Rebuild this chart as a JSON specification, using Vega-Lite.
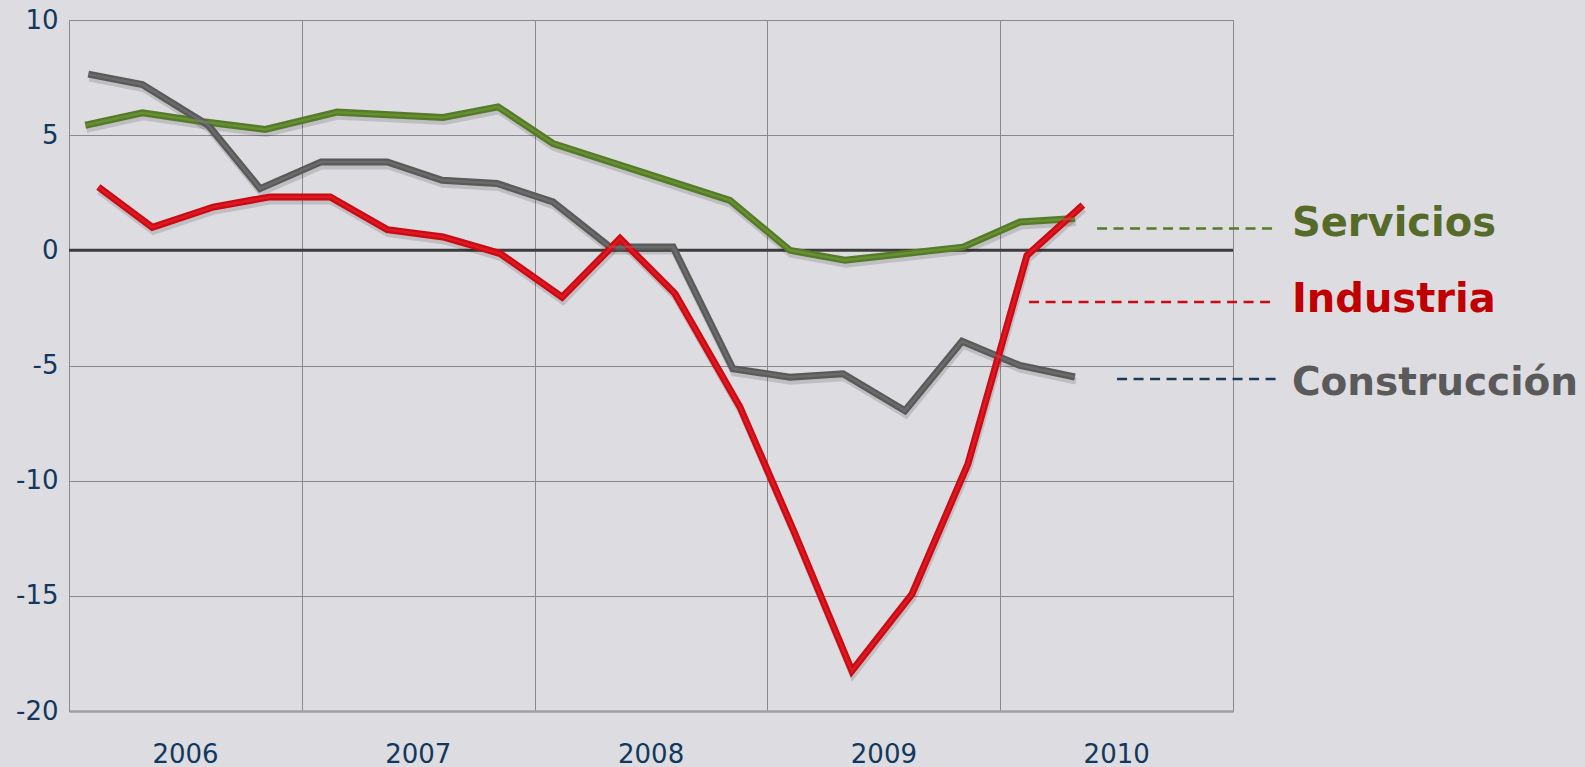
{
  "$schema": "https://vega.github.io/schema/vega-lite/v6.json",
  "autosize": "none",
  "width": 1164,
  "height": 691,
  "padding": {"left": 69, "top": 20, "right": 352, "bottom": 56},
  "background": "#dcdce1",
  "config": {
    "view": {"stroke": "#8a8a8a", "strokeWidth": 1},
    "font": "DejaVu Sans"
  },
  "datasets": {
    "series": [
      {"serie": "Servicios", "t": 2006.070, "v": 5.43},
      {"serie": "Servicios", "t": 2006.315, "v": 5.97},
      {"serie": "Servicios", "t": 2006.577, "v": 5.58},
      {"serie": "Servicios", "t": 2006.843, "v": 5.25},
      {"serie": "Servicios", "t": 2007.152, "v": 6.0},
      {"serie": "Servicios", "t": 2007.607, "v": 5.77},
      {"serie": "Servicios", "t": 2007.843, "v": 6.23},
      {"serie": "Servicios", "t": 2008.079, "v": 4.64},
      {"serie": "Servicios", "t": 2008.839, "v": 2.17},
      {"serie": "Servicios", "t": 2009.097, "v": 0.0},
      {"serie": "Servicios", "t": 2009.333, "v": -0.43},
      {"serie": "Servicios", "t": 2009.840, "v": 0.14},
      {"serie": "Servicios", "t": 2010.085, "v": 1.23},
      {"serie": "Servicios", "t": 2010.321, "v": 1.38},
      {"serie": "Construcción", "t": 2006.083, "v": 7.65},
      {"serie": "Construcción", "t": 2006.315, "v": 7.2},
      {"serie": "Construcción", "t": 2006.598, "v": 5.43},
      {"serie": "Construcción", "t": 2006.821, "v": 2.68},
      {"serie": "Construcción", "t": 2007.083, "v": 3.84},
      {"serie": "Construcción", "t": 2007.367, "v": 3.84},
      {"serie": "Construcción", "t": 2007.603, "v": 3.04},
      {"serie": "Construcción", "t": 2007.839, "v": 2.9},
      {"serie": "Construcción", "t": 2008.079, "v": 2.1},
      {"serie": "Construcción", "t": 2008.324, "v": 0.14},
      {"serie": "Construcción", "t": 2008.595, "v": 0.14},
      {"serie": "Construcción", "t": 2008.852, "v": -5.14},
      {"serie": "Construcción", "t": 2009.097, "v": -5.51},
      {"serie": "Construcción", "t": 2009.325, "v": -5.36},
      {"serie": "Construcción", "t": 2009.591, "v": -6.96},
      {"serie": "Construcción", "t": 2009.836, "v": -3.95},
      {"serie": "Construcción", "t": 2010.085, "v": -5.0},
      {"serie": "Construcción", "t": 2010.321, "v": -5.5},
      {"serie": "Industria", "t": 2006.126, "v": 2.75},
      {"serie": "Industria", "t": 2006.358, "v": 1.0},
      {"serie": "Industria", "t": 2006.620, "v": 1.88},
      {"serie": "Industria", "t": 2006.864, "v": 2.32},
      {"serie": "Industria", "t": 2007.122, "v": 2.32},
      {"serie": "Industria", "t": 2007.367, "v": 0.9},
      {"serie": "Industria", "t": 2007.607, "v": 0.58},
      {"serie": "Industria", "t": 2007.852, "v": -0.14},
      {"serie": "Industria", "t": 2008.118, "v": -2.03},
      {"serie": "Industria", "t": 2008.367, "v": 0.51},
      {"serie": "Industria", "t": 2008.603, "v": -1.88},
      {"serie": "Industria", "t": 2008.882, "v": -6.8},
      {"serie": "Industria", "t": 2009.118, "v": -12.3},
      {"serie": "Industria", "t": 2009.363, "v": -18.26},
      {"serie": "Industria", "t": 2009.621, "v": -14.93},
      {"serie": "Industria", "t": 2009.861, "v": -9.28},
      {"serie": "Industria", "t": 2010.115, "v": -0.22},
      {"serie": "Industria", "t": 2010.355, "v": 1.96}
    ],
    "uno": [{"n": 1}]
  },
  "layer": [
    {
      "data": {"name": "series"},
      "mark": {"type": "line", "strokeWidth": 7, "color": "#000000", "opacity": 0.0},
      "encoding": {
        "x": {
          "field": "t",
          "type": "quantitative",
          "scale": {"domain": [2006, 2011], "nice": false, "zero": false},
          "axis": {
            "title": null,
            "values": [2006, 2007, 2008, 2009, 2010, 2011],
            "labelExpr": "datum.value >= 2011 ? '' : toString(datum.value)",
            "labelOffset": 116,
            "labelFlush": false,
            "labelOverlap": false,
            "labelFontSize": 26,
            "labelColor": "#12385e",
            "labelPadding": 30,
            "ticks": false,
            "grid": true,
            "gridColor": "#8a8a8a",
            "gridWidth": 1,
            "domainColor": "#a0a0a0",
            "domainWidth": 2.5
          }
        },
        "y": {
          "field": "v",
          "type": "quantitative",
          "scale": {"domain": [-20, 10], "nice": false, "zero": false},
          "axis": {
            "title": null,
            "values": [-20, -15, -10, -5, 0, 5, 10],
            "labelExpr": "toString(datum.value)",
            "labelFontSize": 26,
            "labelColor": "#12385e",
            "labelPadding": 11,
            "ticks": false,
            "grid": true,
            "gridColor": "#8a8a8a",
            "gridWidth": 1,
            "domainColor": "#8a8a8a",
            "domainWidth": 1
          }
        },
        "detail": {"field": "serie"}
      }
    },
    {
      "data": {"name": "uno"},
      "mark": {"type": "rule", "color": "#3c3c3c", "strokeWidth": 3},
      "encoding": {"y": {"datum": 0, "scale": {"domain": [-20, 10], "nice": false, "zero": false}}}
    },
    {
      "data": {"name": "series"},
      "mark": {"type": "line", "strokeWidth": 7, "color": "#000000", "opacity": 0.13, "yOffset": 4, "xOffset": 1, "strokeJoin": "miter"},
      "encoding": {
        "x": {"field": "t", "type": "quantitative", "scale": {"domain": [2006, 2011], "nice": false, "zero": false}},
        "y": {"field": "v", "type": "quantitative", "scale": {"domain": [-20, 10], "nice": false, "zero": false}},
        "detail": {"field": "serie"}
      }
    },
    {
      "data": {"name": "series"},
      "mark": {"type": "line", "strokeWidth": 7, "strokeJoin": "miter"},
      "encoding": {
        "x": {"field": "t", "type": "quantitative", "scale": {"domain": [2006, 2011], "nice": false, "zero": false}},
        "y": {"field": "v", "type": "quantitative", "scale": {"domain": [-20, 10], "nice": false, "zero": false}},
        "color": {
          "field": "serie",
          "type": "nominal",
          "scale": {"domain": ["Servicios", "Industria", "Construcción"], "range": ["#557a28", "#cc0a14", "#5a5a5a"]},
          "legend": null
        }
      }
    },
    {
      "data": {"name": "series"},
      "mark": {"type": "line", "strokeWidth": 2.5, "strokeJoin": "miter", "opacity": 0.5},
      "encoding": {
        "x": {"field": "t", "type": "quantitative", "scale": {"domain": [2006, 2011], "nice": false, "zero": false}},
        "y": {"field": "v", "type": "quantitative", "scale": {"domain": [-20, 10], "nice": false, "zero": false}},
        "color": {
          "field": "serie",
          "type": "nominal",
          "scale": {"domain": ["Servicios", "Industria", "Construcción"], "range": ["#78a63e", "#ee2a30", "#7c7c7c"]},
          "legend": null
        }
      }
    },
    {
      "data": {"name": "uno"},
      "mark": {"type": "rule", "color": "#557a28", "strokeWidth": 2.5, "strokeDash": [10, 6.5]},
      "encoding": {"x": {"datum": 2010.416}, "x2": {"datum": 2011.185}, "y": {"datum": 0.95}}
    },
    {
      "data": {"name": "uno"},
      "mark": {"type": "rule", "color": "#cc0a14", "strokeWidth": 2.5, "strokeDash": [10, 6.5]},
      "encoding": {"x": {"datum": 2010.124}, "x2": {"datum": 2011.185}, "y": {"datum": -2.24}}
    },
    {
      "data": {"name": "uno"},
      "mark": {"type": "rule", "color": "#1a3a5c", "strokeWidth": 2.5, "strokeDash": [10, 6.5]},
      "encoding": {"x": {"datum": 2010.502}, "x2": {"datum": 2011.185}, "y": {"datum": -5.59}}
    },
    {
      "data": {"name": "uno"},
      "mark": {"type": "text", "text": "Servicios", "align": "left", "baseline": "alphabetic", "fontSize": 40, "fontWeight": "bold", "color": "#566b2a"},
      "encoding": {"x": {"datum": 2011.253}, "y": {"datum": 0.63}}
    },
    {
      "data": {"name": "uno"},
      "mark": {"type": "text", "text": "Industria", "align": "left", "baseline": "alphabetic", "fontSize": 40, "fontWeight": "bold", "color": "#c00000"},
      "encoding": {"x": {"datum": 2011.253}, "y": {"datum": -2.67}}
    },
    {
      "data": {"name": "uno"},
      "mark": {"type": "text", "text": "Construcción", "align": "left", "baseline": "alphabetic", "fontSize": 39, "fontWeight": "bold", "color": "#5a5a5a"},
      "encoding": {"x": {"datum": 2011.253}, "y": {"datum": -6.28}}
    }
  ],
  "resolve": {"scale": {"color": "independent"}}
}
